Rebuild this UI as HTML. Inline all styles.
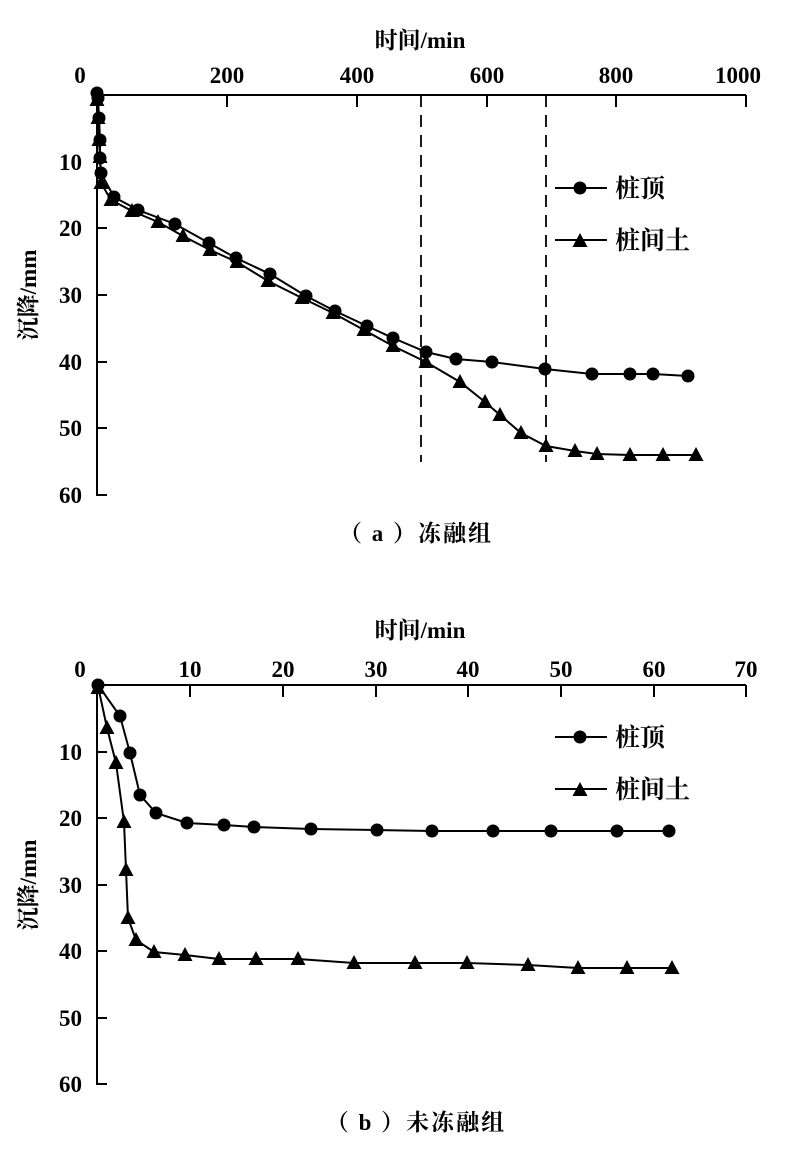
<!DOCTYPE html>
<html><head><meta charset="utf-8"><style>
body{margin:0;background:#fff}
text{font-family:"Liberation Serif","Noto Serif CJK SC",serif;font-weight:bold;fill:#000}
</style></head><body>
<svg width="794" height="1155" viewBox="0 0 794 1155" xmlns="http://www.w3.org/2000/svg">
<defs>
<circle id="c" r="6.5" fill="#000"/>
<polygon id="t" points="0,-8 7.5,6 -7.5,6" fill="#000"/>
</defs>
<g stroke="#000" stroke-width="2" fill="none">
<line x1="97" y1="95" x2="746" y2="95"/>
<line x1="97" y1="95" x2="97" y2="496"/>
<path d="M227 95v12M357 95v12M487 95v12M616 95v12M746 95v12"/>
<path d="M97 162h10M97 228h10M97 295h10M97 362h10M97 428h10M97 495h10"/>
<line x1="421" y1="95" x2="421" y2="462" stroke-dasharray="12,8" stroke-width="1.8"/>
<line x1="546" y1="95" x2="546" y2="462" stroke-dasharray="12,8" stroke-width="1.8"/>
<polyline points="97,93 98,98 99,118 100,140 100,158 101,173 114,197 138,210 175,224 209,243 236,258 270,274 306,296 335,311 367,326 393,338 426,352 456,359 492,362 545,369 592,374 630,374 653,374 688,376"/>
<polyline points="97,100 98,118 99,140 100,157 101,183 111,200 132,211 158,222 183,236 210,250 237,262 268,281 302,298 333,313 364,330 393,346 426,362 460,382 485,402 500,415 521,433 546,446 575,451 597,454 630,455 663,455 696,455"/>
<line x1="555" y1="188" x2="607" y2="188"/>
<line x1="555" y1="240" x2="607" y2="240"/>
<line x1="97" y1="685" x2="746" y2="685"/>
<line x1="97" y1="685" x2="97" y2="1085"/>
<path d="M190 685v12M283 685v12M376 685v12M468 685v12M561 685v12M654 685v12M746 685v12"/>
<path d="M97 752h10M97 818h10M97 885h10M97 951h10M97 1018h10M97 1084h10"/>
<polyline points="98,685 120,716 130,753 140,795 156,813 187,823 224,825 254,827 311,829 377,830 432,831 493,831 551,831 617,831 669,831"/>
<polyline points="98,686 107,728 116,763 124,822 126,870 128,918 136,940 154,952 185,955 219,959 256,959 298,959 354,963 415,963 467,963 528,965 578,968 627,968 672,968"/>
<line x1="555" y1="737" x2="607" y2="737"/>
<line x1="555" y1="789" x2="607" y2="789"/>
</g>
<g>
<use href="#c" x="97" y="93"/><use href="#c" x="98" y="98"/><use href="#c" x="99" y="118"/><use href="#c" x="100" y="140"/><use href="#c" x="100" y="158"/><use href="#c" x="101" y="173"/><use href="#c" x="114" y="197"/><use href="#c" x="138" y="210"/><use href="#c" x="175" y="224"/><use href="#c" x="209" y="243"/><use href="#c" x="236" y="258"/><use href="#c" x="270" y="274"/><use href="#c" x="306" y="296"/><use href="#c" x="335" y="311"/><use href="#c" x="367" y="326"/><use href="#c" x="393" y="338"/><use href="#c" x="426" y="352"/><use href="#c" x="456" y="359"/><use href="#c" x="492" y="362"/><use href="#c" x="545" y="369"/><use href="#c" x="592" y="374"/><use href="#c" x="630" y="374"/><use href="#c" x="653" y="374"/><use href="#c" x="688" y="376"/>
<use href="#t" x="97" y="100"/><use href="#t" x="98" y="118"/><use href="#t" x="99" y="140"/><use href="#t" x="100" y="157"/><use href="#t" x="101" y="183"/><use href="#t" x="111" y="200"/><use href="#t" x="132" y="211"/><use href="#t" x="158" y="222"/><use href="#t" x="183" y="236"/><use href="#t" x="210" y="250"/><use href="#t" x="237" y="262"/><use href="#t" x="268" y="281"/><use href="#t" x="302" y="298"/><use href="#t" x="333" y="313"/><use href="#t" x="364" y="330"/><use href="#t" x="393" y="346"/><use href="#t" x="426" y="362"/><use href="#t" x="460" y="382"/><use href="#t" x="485" y="402"/><use href="#t" x="500" y="415"/><use href="#t" x="521" y="433"/><use href="#t" x="546" y="446"/><use href="#t" x="575" y="451"/><use href="#t" x="597" y="454"/><use href="#t" x="630" y="455"/><use href="#t" x="663" y="455"/><use href="#t" x="696" y="455"/>
<use href="#c" x="580" y="188"/><use href="#t" x="580" y="241"/>
</g>
<g>
<use href="#c" x="98" y="685"/><use href="#c" x="120" y="716"/><use href="#c" x="130" y="753"/><use href="#c" x="140" y="795"/><use href="#c" x="156" y="813"/><use href="#c" x="187" y="823"/><use href="#c" x="224" y="825"/><use href="#c" x="254" y="827"/><use href="#c" x="311" y="829"/><use href="#c" x="377" y="830"/><use href="#c" x="432" y="831"/><use href="#c" x="493" y="831"/><use href="#c" x="551" y="831"/><use href="#c" x="617" y="831"/><use href="#c" x="669" y="831"/>
<use href="#t" x="98" y="688"/><use href="#t" x="107" y="728"/><use href="#t" x="116" y="763"/><use href="#t" x="124" y="822"/><use href="#t" x="126" y="870"/><use href="#t" x="128" y="918"/><use href="#t" x="136" y="940"/><use href="#t" x="154" y="952"/><use href="#t" x="185" y="955"/><use href="#t" x="219" y="959"/><use href="#t" x="256" y="959"/><use href="#t" x="298" y="959"/><use href="#t" x="354" y="963"/><use href="#t" x="415" y="963"/><use href="#t" x="467" y="963"/><use href="#t" x="528" y="965"/><use href="#t" x="578" y="968"/><use href="#t" x="627" y="968"/><use href="#t" x="672" y="968"/>
<use href="#c" x="580" y="737"/><use href="#t" x="580" y="790"/>
</g>
<g font-size="23" text-anchor="middle">
<text x="420" y="48">时间/min</text>
<text x="80" y="83">0</text>
<text x="227" y="83">200</text>
<text x="357" y="83">400</text>
<text x="487" y="83">600</text>
<text x="616" y="83">800</text><text x="738" y="83">1000</text>
<text x="420" y="638">时间/min</text>
<text x="80" y="677">0</text><text x="190" y="677">10</text><text x="283" y="677">20</text><text x="376" y="677">30</text><text x="468" y="677">40</text><text x="561" y="677">50</text><text x="654" y="677">60</text><text x="746" y="677">70</text>
<text transform="translate(36,295) rotate(-90)">沉降/mm</text>
<text transform="translate(36,885) rotate(-90)">沉降/mm</text>
<text x="416" y="541" letter-spacing="2">（ a ）冻融组</text>
<text x="416" y="1130" letter-spacing="2">（ b ）未冻融组</text>
</g>
<g font-size="23" text-anchor="end">
<text x="82" y="170">10</text><text x="82" y="236">20</text><text x="82" y="303">30</text><text x="82" y="370">40</text><text x="82" y="436">50</text><text x="82" y="503">60</text>
<text x="82" y="760">10</text><text x="82" y="826">20</text><text x="82" y="893">30</text><text x="82" y="959">40</text><text x="82" y="1026">50</text><text x="82" y="1092">60</text>
</g>
<g font-size="25">
<text x="615" y="197">桩顶</text><text x="615" y="249">桩间土</text>
<text x="615" y="746">桩顶</text><text x="615" y="798">桩间土</text>
</g>
</svg>
</body></html>
